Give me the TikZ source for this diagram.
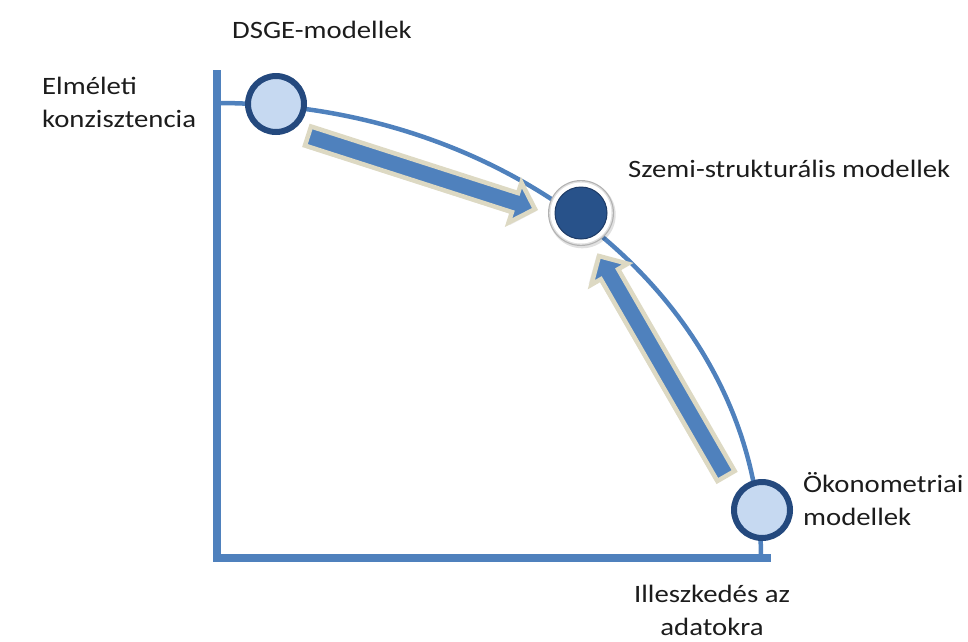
\documentclass[tikz,border=0pt]{standalone}
\usepackage{fontspec}
\setmainfont{Carlito}
\usepackage{graphicx}
\definecolor{lineblue}{HTML}{4F81BD}
\definecolor{navy}{HTML}{24497E}
\definecolor{lightfill}{HTML}{C6D9F1}
\definecolor{beige}{HTML}{DDD9C3}
\definecolor{darkfill}{HTML}{28528A}
\definecolor{textcol}{HTML}{1C1C1C}
\newcommand\sx[1]{\scalebox{1.15}[1]{#1}}
\begin{document}
\begin{tikzpicture}[x=1pt,y=-1pt,
  axisline/.style={draw=lineblue, line width=8pt, line join=miter},
  curveline/.style={draw=lineblue, line width=4.5pt},
  fatarrow/.style={fill=lineblue, draw=beige, line width=4.5pt, line join=miter},
  arrowshadow/.style={fill=black, opacity=0.08},
  enddot/.style={circle, fill=lightfill, draw=navy, line width=6pt, minimum size=56pt, inner sep=0pt},
  middot/.style={circle, fill=darkfill, draw=navy!80!black, line width=1pt, minimum size=52pt, inner sep=0pt},
  lbl/.style={font=\fontsize{25}{33}\selectfont, text=textcol, inner sep=0pt}]
\useasboundingbox (0,0) rectangle (968,641);

% axes
\coordinate (ytop) at (217,70);
\coordinate (origin) at (217,558);
\coordinate (xend) at (771,558);
\draw[axisline] (ytop) -- (origin) -- (xend);

% frontier curve (quarter ellipse)
\coordinate (ctop) at (217,103);
\draw[curveline] (ctop) arc[start angle=-90, end angle=0, x radius=544, y radius=455];

% arrow 1 (DSGE -> semi-structural)
\coordinate (a1s) at (308,136);
\begin{scope}[shift={(a1s)}, rotate=-17.83]
  \fill[arrowshadow] (1,-9) -- (219.45,-9) -- (219.45,-20) -- (240.5,1.5) -- (219.45,23) -- (219.45,12) -- (1,12) -- cycle;
  \draw[fatarrow] (0,-10) -- (217.45,-10) -- (217.45,-21) -- (238.45,0) -- (217.45,21) -- (217.45,10) -- (0,10) -- cycle;
\end{scope}

% arrow 2 (econometric -> semi-structural)
\coordinate (a2s) at (726,476);
\begin{scope}[shift={(a2s)}, rotate=120]
  \fill[arrowshadow] (1,-12) -- (235,-12) -- (235,-23) -- (256,-1.5) -- (235,20) -- (235,9) -- (1,9) -- cycle;
  \draw[fatarrow] (0,-10) -- (233,-10) -- (233,-21) -- (254,0) -- (233,21) -- (233,10) -- (0,10) -- cycle;
\end{scope}

% end dots
\node[enddot] (dsge) at (276,104) {};
\node[enddot] (econ) at (762,510) {};

% middle dot with ring
\coordinate (semiC) at (581,213);
\fill[black, opacity=0.12] ([shift={(1.2,1.8)}]semiC) circle[radius=33.5];
\fill[gray!60] (semiC) circle[radius=33];
\fill[gray!25] (semiC) circle[radius=31.8];
\fill[white] (semiC) circle[radius=30.5];
\node[middot] (semi) at (semiC) {};

% labels
\node[lbl, anchor=base west] (tdsge) at (232,38) {\sx{DSGE-modellek}};
\node[lbl, anchor=base west, align=left] (tel) at (42,127) {\sx{Elméleti}\\\sx{konzisztencia}};
\node[lbl, anchor=base west] (tsemi) at (628,177) {\sx{Szemi-strukturális modellek}};
\node[lbl, anchor=base west, align=left] (tecon) at (803,525) {\sx{Ökonometriai}\\\sx{modellek}};
\node[lbl, anchor=base, align=center] (tfit) at (712,635) {\sx{Illeszkedés az}\\\sx{adatokra}};
\end{tikzpicture}
\end{document}
